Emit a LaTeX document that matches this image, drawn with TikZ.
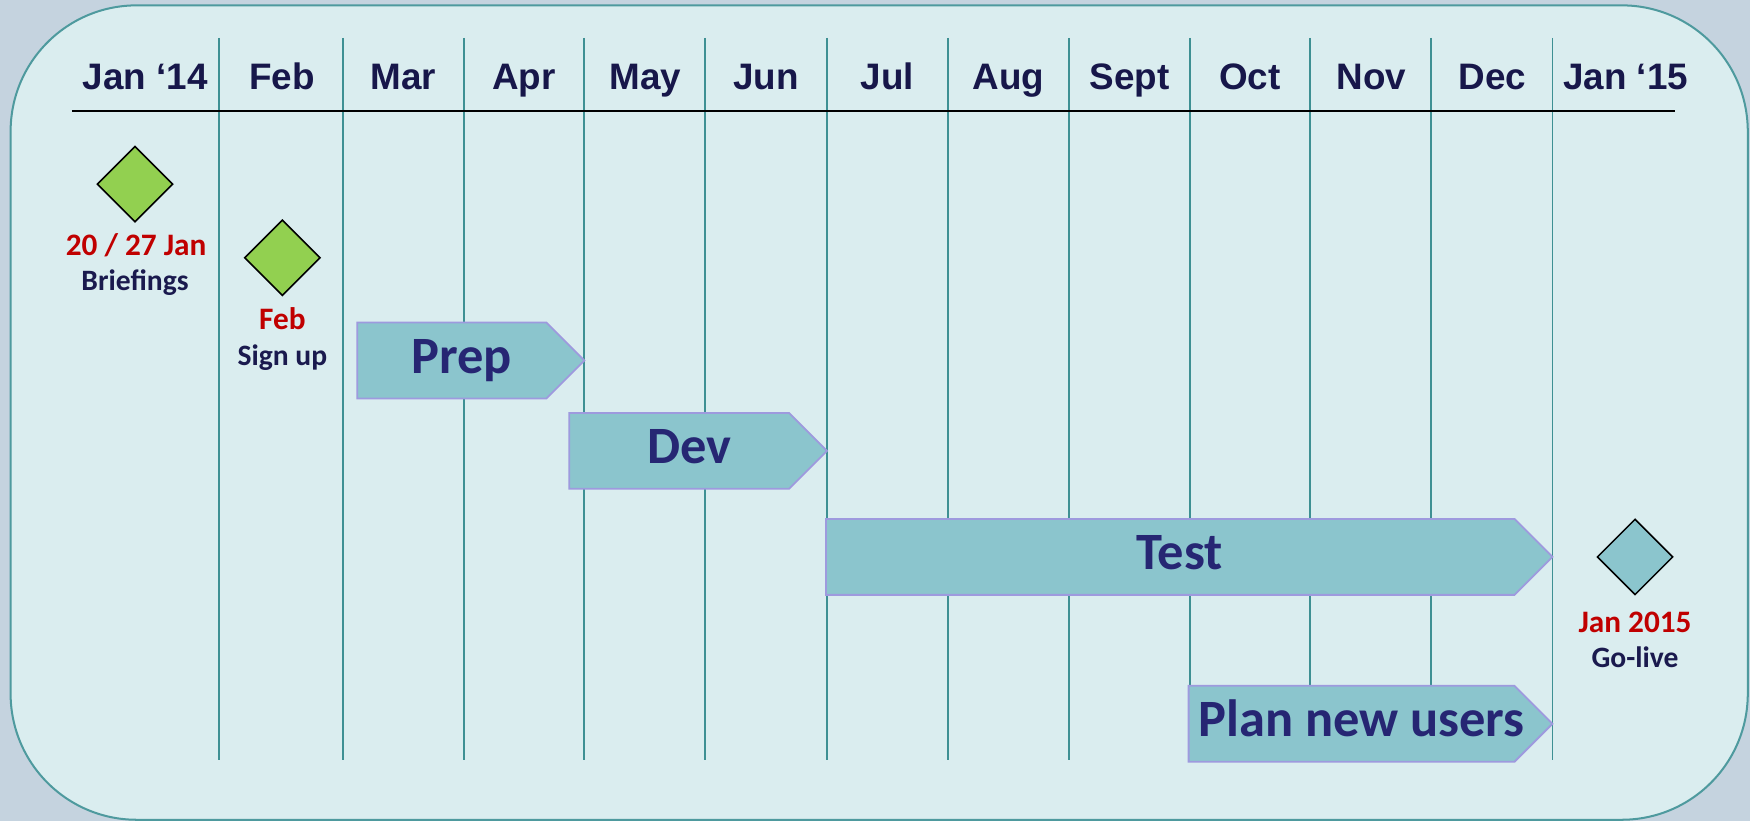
\documentclass[tikz,border=0pt]{standalone}
\usepackage{fontspec}
\setmainfont{Carlito}
\newfontfamily\arialfont{Liberation Sans}
\usetikzlibrary{shapes.geometric}
\definecolor{outbg}{HTML}{C5D3DF}
\definecolor{framefill}{HTML}{DAEDEF}
\definecolor{frameline}{HTML}{4E9A9E}
\definecolor{vlinecol}{HTML}{3E9093}
\definecolor{monthcol}{HTML}{17174A}
\definecolor{barfill}{HTML}{8BC5CD}
\definecolor{barline}{HTML}{9E9ADE}
\definecolor{bartextcol}{HTML}{262673}
\definecolor{msgreen}{HTML}{92D050}
\definecolor{msred}{HTML}{C00000}
\definecolor{labnavy}{HTML}{1A1A4E}
\tikzset{
  monthlab/.style={anchor=base, inner sep=0pt, text=monthcol, font=\arialfont\bfseries\fontsize{33}{36}\selectfont},
  vline/.style={draw=vlinecol, line width=1.7pt},
  barshape/.style={fill=barfill, draw=barline, line width=1.6pt, line join=miter},
  bartext/.style={anchor=base, inner sep=0pt, text=bartextcol, font=\bfseries\fontsize{47}{50}\selectfont},
  milestone/.style={diamond, draw=black, line width=1.4pt, minimum width=68pt, minimum height=68pt, inner sep=0pt},
  datelab/.style={anchor=base, inner sep=0pt, text=msred, font=\bfseries\fontsize{28}{30}\selectfont},
  desclab/.style={anchor=base, inner sep=0pt, text=labnavy, font=\bfseries\fontsize{26.5}{28}\selectfont}
}
\begin{document}
\begin{tikzpicture}[x=1pt,y=-1pt]
\useasboundingbox (0,0) rectangle (1568,736);
\fill[outbg] (0,0) rectangle (1568,736);
\draw[fill=framefill, draw=frameline, line width=1.8pt, rounded corners=113pt] (9.5,4.8) rectangle (1566,734.5);
% vertical month separators
\foreach \x in {196,307,416,523,632,741,849,958,1066,1174,1282,1391}
  \draw[vline] (\x,34) -- (\x,681);
% header line
\draw[black, line width=2pt] (64.5,99.5) -- (1501,99.5);
% month labels
\node[monthlab] (m1) at (130,80) {Jan ‘14};
\node[monthlab] (m2) at (252.5,80) {Feb};
\node[monthlab] (m3) at (361.5,80) {Mar};
\node[monthlab] (m4) at (469.5,80) {Apr};
\node[monthlab] (m5) at (578.5,80) {May};
\node[monthlab] (m6) at (686.5,80) {Jun};
\node[monthlab] (m7) at (795,80) {Jul};
\node[monthlab] (m8) at (903.5,80) {Aug};
\node[monthlab] (m9) at (1012,80) {Sept};
\node[monthlab] (m10) at (1120,80) {Oct};
\node[monthlab] (m11) at (1229,80) {Nov};
\node[monthlab] (m12) at (1337,80) {Dec};
\node[monthlab] (m13) at (1456.5,80) {Jan ‘15};
% bars
\draw[barshape] (320,289) -- (489.5,289) -- (523.5,323) -- (489.5,357) -- (320,357) -- cycle;
\node[bartext] (prep) at (413.5,334.5) {Prep};
\draw[barshape] (510,370) -- (707,370) -- (741,404) -- (707,438) -- (510,438) -- cycle;
\node[bartext] (dev) at (617.5,415) {Dev};
\draw[barshape] (740,465) -- (1357,465) -- (1391,499) -- (1357,533) -- (740,533) -- cycle;
\node[bartext] (test) at (1057,510.5) {Test};
\draw[barshape] (1065,614.5) -- (1357,614.5) -- (1391,648.5) -- (1357,682.5) -- (1065,682.5) -- cycle;
\node[bartext] (plan) at (1220,660) {Plan new users};
% milestones
\node[milestone, fill=msgreen] (ms1) at (121,165) {};
\node[datelab] (ms1d) at (122,228.5) {20 / 27 Jan};
\node[desclab] (ms1t) at (121,260.5) {Briefings};
\node[milestone, fill=msgreen] (ms2) at (253,231) {};
\node[datelab] (ms2d) at (253,295) {Feb};
\node[desclab] (ms2t) at (253,327.7) {Sign up};
\node[milestone, fill=barfill] (ms3) at (1465,499) {};
\node[datelab] (ms3d) at (1465,566.5) {Jan 2015};
\node[desclab] (ms3t) at (1465,598.2) {Go-live};
\end{tikzpicture}
\end{document}
